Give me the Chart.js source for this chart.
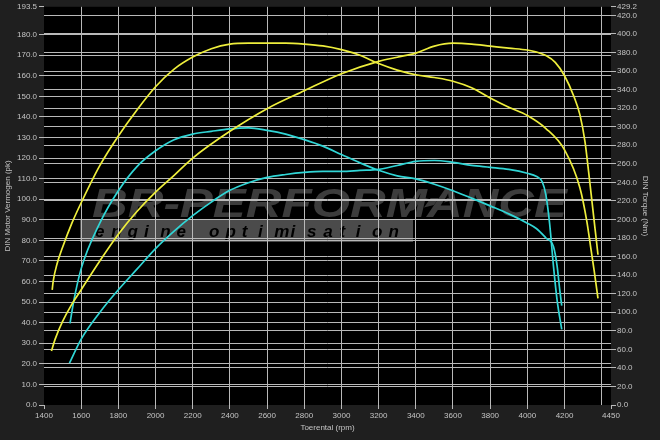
<!DOCTYPE html>
<html>
<head>
<meta charset="utf-8">
<script src="https://cdn.jsdelivr.net/npm/chart.js@4.4.0/dist/chart.umd.min.js"></script>
<style>
  html, body { margin: 0; background: #1f1f1f; }
  #wrap { width: 660px; height: 440px; }
</style>
</head>
<body>
<div id="wrap"><canvas id="dyno" width="660" height="440"></canvas></div>
<script>
// Dyno sheet: tuned (yellow) vs stock (cyan), power on the left axis, torque on the right.

// ---- data ----
const tunedTorqueRpm = [1444, 1450, 1470, 1500, 1550, 1600, 1700, 1800, 1900, 2000, 2100, 2200, 2300, 2400, 2500, 2600, 2700, 2800, 2900, 3000, 3100, 3200, 3300, 3400, 3500, 3600, 3700, 3800, 3900, 4000, 4100, 4200, 4283, 4320, 4340, 4360, 4380];
const tunedTorque = [124, 134, 152, 170, 196, 218, 258, 290, 318, 343, 362, 375, 384, 389, 390, 390, 390, 389, 387, 383, 377, 368, 361, 356, 353, 349, 342, 331, 321, 312, 298, 275, 234, 198, 171, 144, 115];

const tunedPowerRpm = [1440, 1460, 1500, 1550, 1600, 1700, 1800, 1900, 2000, 2100, 2200, 2400, 2600, 2800, 3000, 3200, 3300, 3400, 3500, 3600, 3700, 3800, 3900, 4000, 4050, 4100, 4150, 4200, 4250, 4283, 4310, 4330, 4350, 4365, 4380];
const tunedPower = [26.2, 32, 40.6, 49, 56, 70, 83, 94, 103.4, 111.6, 120, 133, 144, 152.7, 161, 167, 169, 171, 174.4, 175.8, 175.4, 174.4, 173.4, 172.5, 171.5, 169.8, 166.5, 160, 150, 141, 128, 113, 97, 85, 73];

const stockTorqueRpm = [1540, 1560, 1600, 1700, 1800, 1900, 2000, 2100, 2200, 2300, 2400, 2500, 2600, 2700, 2800, 2900, 3000, 3100, 3200, 3300, 3400, 3500, 3600, 3700, 3800, 3900, 4000, 4050, 4100, 4140, 4160, 4175, 4185];
const stockTorque = [88, 112, 147, 196, 231, 257, 274, 286, 292, 295, 297.6, 298.6, 296, 292, 286, 279, 270, 261, 253, 247, 243.7, 238, 231, 223, 214.6, 206, 196, 190, 180, 171, 150, 123, 107];

const stockPowerRpm = [1537, 1600, 1700, 1800, 1900, 2000, 2100, 2200, 2300, 2400, 2500, 2600, 2700, 2800, 2900, 3000, 3100, 3200, 3300, 3400, 3500, 3600, 3700, 3800, 3900, 4000, 4050, 4080, 4100, 4120, 4140, 4160, 4185];
const stockPower = [20.3, 32, 45, 56, 66, 76, 84.5, 92, 98.6, 104.3, 108, 110.6, 112, 113, 113.5, 113.5, 114, 114.5, 116.4, 118.4, 118.8, 117.9, 116.4, 115.5, 114.5, 112.6, 111, 108.5, 102, 88, 68, 51, 36.7];

// tick values
const rpmTicks = [1400, 1600, 1800, 2000, 2200, 2400, 2600, 2800, 3000, 3200, 3400, 3600, 3800, 4000, 4200, 4400, 4450];
const powerTicks = [0, 10, 20, 30, 40, 50, 60, 70, 80, 90, 100, 110, 120, 130, 140, 150, 160, 170, 180, 193.5];
const torqueTicks = [0, 20, 40, 60, 80, 100, 120, 140, 160, 180, 200, 220, 240, 260, 280, 300, 320, 340, 360, 380, 400, 420, 429.2];

// ---- style ----
const BG = "#1f1f1f";
const GRID = "#b9b9b9";
const TEXT = "#c4c4c4";
const YELLOW = "#eeee3c";
const CYAN = "#30d6d6";
const FONT = "'Liberation Sans', Arial, sans-serif";

const pts = (xs, ys) => xs.map((x, i) => ({ x, y: ys[i] }));

// background, black plot area and the tuner's watermark (under the grid)
const backdrop = {
  id: "backdrop",
  beforeDraw(chart) {
    const { ctx, chartArea: a } = chart;
    ctx.save();
    ctx.fillStyle = BG;
    ctx.fillRect(0, 0, chart.width, chart.height);
    ctx.fillStyle = "#000";
    ctx.fillRect(a.left, a.top, a.right - a.left, a.bottom - a.top);

    // grey band
    ctx.fillStyle = "#4b4b4b";
    ctx.fillRect(80, 219, 333, 23);

    // checkered flag
    ctx.save();
    ctx.beginPath();
    ctx.rect(405, 198, 160, 56);
    ctx.clip();
    ctx.transform(1, -0.25, -0.7, 1, 0, 0);
    ctx.fillStyle = "#3a3a3a";
    const sq = 10;
    for (let r = 0; r < 6; r++) {
      for (let c = 0; c < 16; c++) {
        if ((r + c) % 2) continue;
        ctx.fillRect(560 + c * sq, 320 + r * sq, sq, sq);
      }
    }
    ctx.restore();

    // big logo text
    ctx.font = `italic bold 52px ${FONT}`;
    ctx.fillStyle = "#3c3c3c";
    ctx.textBaseline = "alphabetic";
    const big = "BR-PERFORMANCE";
    const w = ctx.measureText(big).width;
    ctx.save();
    ctx.translate(92, 217);
    ctx.scale(475 / w, 0.78);
    ctx.fillText(big, 0, 0);
    ctx.restore();

    // "engine optimisation"
    ctx.font = `italic bold 17px ${FONT}`;
    ctx.fillStyle = "#000";
    const small = "engine optimisation";
    for (let i = 0; i < small.length; i++) {
      ctx.fillText(small[i], 95 + i * 16.3, 237);
    }
    ctx.restore();
  },
};

const lineSet = (label, data, color, axis) => ({
  label, data, yAxisID: axis,
  borderColor: color, borderWidth: 1.7,
  pointRadius: 0, fill: false,
  cubicInterpolationMode: "monotone",
});

const tickFont = { family: FONT, size: 8 };
const titleFont = { family: FONT, size: 8 };

new Chart(document.getElementById("dyno"), {
  type: "line",
  data: {
    datasets: [
      lineSet("Tuned torque", pts(tunedTorqueRpm, tunedTorque), YELLOW, "yT"),
      lineSet("Tuned power", pts(tunedPowerRpm, tunedPower), YELLOW, "yP"),
      lineSet("Stock torque", pts(stockTorqueRpm, stockTorque), CYAN, "yT"),
      lineSet("Stock power", pts(stockPowerRpm, stockPower), CYAN, "yP"),
    ],
  },
  options: {
    responsive: false,
    animation: false,
    layout: { padding: { top: 5, left: 0, right: 0, bottom: 0 } },
    plugins: { legend: { display: false }, tooltip: { enabled: false } },
    scales: {
      x: {
        type: "linear", position: "bottom", min: 1400, max: 4450,
        afterBuildTicks: (s) => { s.ticks = rpmTicks.map((v) => ({ value: v })); },
        afterFit: (s) => { s.height = 35; },
        border: { display: false },
        grid: {
          color: (c) => (c.tick && (c.tick.value === 1400 || c.tick.value === 4450)) ? "transparent" : GRID,
          tickColor: (c) => (c.tick && c.tick.value === 4400) ? "transparent" : GRID,
          tickLength: 4, lineWidth: 1,
        },
        ticks: {
          color: TEXT, font: tickFont, padding: 2, autoSkip: false, maxRotation: 0,
          callback: (v) => (v === 4400 ? "" : String(v)),
        },
        title: { display: true, text: "Toerental (rpm)", color: TEXT, font: titleFont, padding: { top: 0, bottom: 7 } },
      },
      yP: {
        type: "linear", position: "left", min: 0, max: 193.5,
        afterBuildTicks: (s) => { s.ticks = powerTicks.map((v) => ({ value: v })); },
        afterFit: (s) => { s.width = 44; },
        border: { display: false },
        grid: {
          color: (c) => (c.tick && (c.tick.value === 0 || c.tick.value === 193.5)) ? "transparent" : GRID,
          tickColor: GRID, tickLength: 5, lineWidth: 1,
        },
        ticks: { color: TEXT, font: tickFont, padding: 2, callback: (v) => v.toFixed(1) },
        title: { display: true, text: "DIN Motor Vermogen (pk)", color: TEXT, font: titleFont, padding: { top: 3, bottom: 0 } },
      },
      yT: {
        type: "linear", position: "right", min: 0, max: 429.2,
        afterBuildTicks: (s) => { s.ticks = torqueTicks.map((v) => ({ value: v })); },
        afterFit: (s) => { s.width = 49; },
        border: { display: false },
        grid: {
          color: (c) => (c.tick && (c.tick.value === 0 || c.tick.value === 429.2)) ? "transparent" : GRID,
          tickColor: GRID, tickLength: 5, lineWidth: 1,
        },
        ticks: { color: TEXT, font: tickFont, padding: 1, callback: (v) => v.toFixed(1) },
        title: { display: true, text: "DIN Torque (Nm)", color: TEXT, font: titleFont, padding: { top: 10, bottom: 0 } },
      },
    },
  },
  plugins: [backdrop],
});
</script>
</body>
</html>
